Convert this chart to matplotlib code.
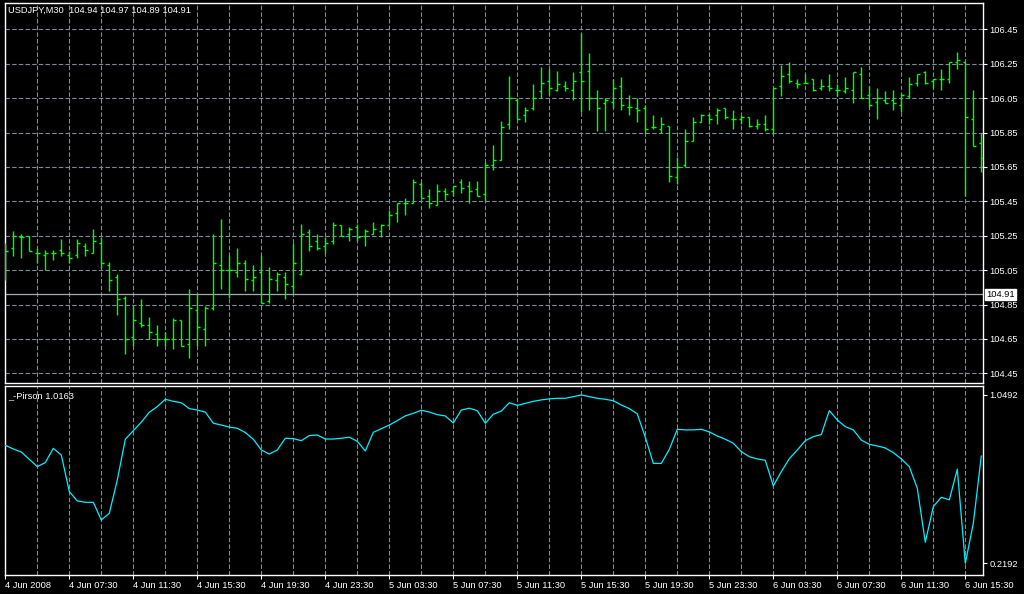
import matplotlib
matplotlib.use("Agg")
import matplotlib.pyplot as plt

# USDJPY M30 bars, 4 Jun 2008 03:30 .. 6 Jun 2008 16:30
opens = [105.14, 105.18, 105.24, 105.25, 105.15, 105.14, 105.15, 105.17, 105.14, 105.14,
         105.19, 105.15, 105.21, 105.08, 105.01, 104.89, 104.66, 104.74, 104.73, 104.68,
         104.65, 104.65, 104.76, 104.62, 104.82, 104.71, 104.83, 105.08, 105.05, 105.04,
         105.09, 104.99, 105.04, 104.87, 104.99, 105.01, 104.96, 105.03, 105.27, 105.22,
         105.19, 105.22, 105.31, 105.26, 105.30, 105.25, 105.26, 105.28, 105.31, 105.38,
         105.44, 105.44, 105.55, 105.48, 105.43, 105.51, 105.51, 105.56, 105.54, 105.52,
         105.49, 105.66, 105.69, 105.90, 106.04, 105.95, 105.99, 106.09, 106.15, 106.10,
         106.12, 106.10, 106.20, 106.21, 106.05, 106.02, 106.03, 106.12, 106.00, 105.99,
         105.99, 105.88, 105.87, 105.89, 105.59, 105.66, 105.80, 105.91, 105.95, 105.95,
         105.99, 105.93, 105.93, 105.94, 105.89, 105.90, 105.87, 106.12, 106.19, 106.14,
         106.14, 106.16, 106.11, 106.12, 106.10, 106.09, 106.10, 106.19, 106.07, 106.03,
         106.04, 106.04, 106.01, 106.06, 106.14, 106.20, 106.15, 106.16, 106.16, 106.26,
         106.26, 105.93, 105.79]
highs = [105.21, 105.28, 105.26, 105.25, 105.18, 105.17, 105.17, 105.23, 105.16, 105.23,
         105.21, 105.29, 105.24, 105.10, 105.03, 104.90, 104.84, 104.88, 104.78, 104.73,
         104.69, 104.77, 104.76, 104.94, 104.91, 104.84, 105.26, 105.35, 105.14, 105.18,
         105.11, 105.08, 105.14, 105.07, 105.04, 105.04, 105.21, 105.32, 105.29, 105.26,
         105.24, 105.33, 105.31, 105.30, 105.32, 105.29, 105.33, 105.32, 105.40, 105.44,
         105.47, 105.58, 105.56, 105.52, 105.55, 105.53, 105.54, 105.58, 105.57, 105.57,
         105.68, 105.78, 105.92, 106.18, 106.05, 106.00, 106.13, 106.23, 106.22, 106.21,
         106.15, 106.20, 106.43, 106.31, 106.10, 106.05, 106.16, 106.17, 106.07, 106.05,
         106.01, 105.95, 105.94, 105.89, 105.71, 105.87, 105.94, 105.96, 105.96, 105.99,
         105.99, 105.98, 105.95, 105.94, 105.93, 105.95, 106.11, 106.24, 106.26, 106.16,
         106.19, 106.16, 106.16, 106.19, 106.13, 106.17, 106.20, 106.23, 106.12, 106.11,
         106.09, 106.10, 106.08, 106.17, 106.19, 106.21, 106.16, 106.22, 106.26, 106.32,
         106.26, 106.10, 105.85]
lows = [104.99, 105.13, 105.12, 105.16, 105.09, 105.05, 105.11, 105.13, 105.09, 105.12,
        105.13, 105.15, 105.06, 104.93, 104.79, 104.56, 104.61, 104.72, 104.65, 104.61,
        104.61, 104.59, 104.61, 104.54, 104.61, 104.61, 104.82, 104.94, 104.89, 105.01,
        104.93, 104.93, 104.86, 104.86, 104.93, 104.88, 104.92, 105.02, 105.16, 105.17,
        105.15, 105.20, 105.25, 105.22, 105.22, 105.19, 105.26, 105.24, 105.31, 105.33,
        105.37, 105.44, 105.47, 105.41, 105.43, 105.46, 105.48, 105.50, 105.44, 105.48,
        105.45, 105.63, 105.69, 105.87, 105.93, 105.91, 105.98, 106.05, 106.07, 106.09,
        106.09, 106.04, 105.97, 105.98, 105.86, 105.86, 105.99, 105.98, 105.95, 105.91,
        105.85, 105.87, 105.85, 105.56, 105.55, 105.65, 105.80, 105.91, 105.90, 105.90,
        105.93, 105.87, 105.90, 105.88, 105.87, 105.86, 105.84, 106.06, 106.14, 106.11,
        106.14, 106.09, 106.10, 106.09, 106.06, 106.08, 106.02, 106.05, 106.00, 105.93,
        106.02, 105.98, 105.97, 106.05, 106.12, 106.13, 106.11, 106.10, 106.14, 106.22,
        105.48, 105.77, 105.62]
closes = [105.16, 105.25, 105.24, 105.16, 105.15, 105.15, 105.15, 105.15, 105.12, 105.21,
          105.17, 105.22, 105.09, 104.99, 104.88, 104.65, 104.76, 104.73, 104.69, 104.65,
          104.65, 104.76, 104.61, 104.83, 104.72, 104.83, 105.09, 105.05, 105.05, 105.09,
          105.00, 105.01, 104.86, 105.00, 105.03, 104.97, 105.09, 105.26, 105.19, 105.18,
          105.21, 105.31, 105.25, 105.29, 105.24, 105.28, 105.29, 105.31, 105.37, 105.44,
          105.44, 105.56, 105.47, 105.44, 105.51, 105.49, 105.54, 105.53, 105.51, 105.48,
          105.66, 105.69, 105.88, 106.05, 105.93, 105.98, 106.05, 106.14, 106.11, 106.13,
          106.11, 106.15, 106.15, 106.05, 105.99, 106.04, 106.11, 106.01, 106.00, 105.98,
          105.87, 105.88, 105.90, 105.60, 105.65, 105.80, 105.91, 105.95, 105.93, 105.98,
          105.94, 105.93, 105.94, 105.89, 105.90, 105.87, 106.11, 106.18, 106.15, 106.13,
          106.14, 106.10, 106.12, 106.11, 106.10, 106.11, 106.20, 106.05, 106.01, 106.05,
          106.02, 106.02, 106.07, 106.13, 106.19, 106.14, 106.16, 106.16, 106.26, 106.27,
          105.94, 105.77, 105.70]

# _-Pirson indicator values per bar
pirson = [0.801, 0.783, 0.768, 0.732, 0.696, 0.716, 0.786, 0.753, 0.573, 0.527,
          0.520, 0.520, 0.433, 0.466, 0.630, 0.831, 0.873, 0.915, 0.964, 0.992,
          1.028, 1.018, 1.011, 0.982, 0.975, 0.965, 0.910, 0.901, 0.891, 0.885,
          0.864, 0.831, 0.778, 0.758, 0.778, 0.836, 0.834, 0.824, 0.849, 0.852,
          0.832, 0.832, 0.836, 0.841, 0.821, 0.773, 0.865, 0.883, 0.901, 0.923,
          0.946, 0.959, 0.974, 0.965, 0.952, 0.946, 0.911, 0.975, 0.984, 0.972,
          0.910, 0.954, 0.970, 1.011, 0.998, 1.008, 1.018, 1.025, 1.030, 1.033,
          1.033, 1.041, 1.0492, 1.041, 1.033, 1.028, 1.021, 1.000, 0.982, 0.956,
          0.841, 0.712, 0.712, 0.781, 0.880, 0.877, 0.877, 0.880, 0.867, 0.847,
          0.831, 0.811, 0.770, 0.745, 0.734, 0.727, 0.601, 0.671, 0.735, 0.778,
          0.824, 0.844, 0.854, 0.972, 0.926, 0.893, 0.877, 0.827, 0.806, 0.798,
          0.788, 0.765, 0.734, 0.696, 0.589, 0.323, 0.499, 0.545, 0.532, 0.683,
          0.2192, 0.416, 0.748]

time_labels = ["4 Jun 2008", "4 Jun 07:30", "4 Jun 11:30", "4 Jun 15:30", "4 Jun 19:30",
               "4 Jun 23:30", "5 Jun 03:30", "5 Jun 07:30", "5 Jun 11:30", "5 Jun 15:30",
               "5 Jun 19:30", "5 Jun 23:30", "6 Jun 03:30", "6 Jun 07:30", "6 Jun 11:30",
               "6 Jun 15:30"]
price_ticks = [104.45, 104.65, 104.85, 105.05, 105.25, 105.45, 105.65, 105.85, 106.05, 106.25, 106.45]
bid = 104.91

plt.rcParams['font.family'] = ['Liberation Sans', 'DejaVu Sans']
FS = 6.7
GRID = '#7d8c9c'
W, H = 1024, 594

fig = plt.figure(figsize=(W / 100, H / 100), dpi=100, facecolor='black')
ax = fig.add_axes([4.5 / W, (H - 383) / H, 978 / W, 380.5 / H], facecolor='black')
ax2 = fig.add_axes([4.5 / W, (H - 575) / H, 978 / W, 189.5 / H], facecolor='black')

idx = list(range(len(closes)))
grid_x = list(range(0, len(closes), 4))

for a in (ax, ax2):
    for s in a.spines.values():
        s.set_color('white')
        s.set_linewidth(1.0)
    a.set_xlim(-0.1, 122.15)
    for gx in grid_x:
        a.axvline(gx, color=GRID, lw=0.8, ls=(0, (4, 2)), zorder=0)
    a.yaxis.tick_right()
    a.tick_params(colors='white', labelsize=FS, length=3, width=0.8, pad=2)

# price panel
ax.set_ylim(104.394, 106.606)
ax.set_yticks(price_ticks)
ax.set_yticklabels([f"{p:.2f}" for p in price_ticks])
ax.set_xticks([])
for p in price_ticks:
    ax.axhline(p, color=GRID, lw=0.8, ls=(0, (4, 2)), zorder=0)
ax.axhline(bid, color='#a0a8b0', lw=0.9, zorder=1)

bar_col = '#00ff00'
ax.vlines(idx, lows, highs, color=bar_col, lw=1.0, zorder=3)
ax.hlines(opens, [i - 0.33 for i in idx], idx, color=bar_col, lw=1.0, zorder=3)
ax.hlines(closes, idx, [i + 0.33 for i in idx], color=bar_col, lw=1.0, zorder=3)

ax.text(1.004, bid, f"{bid:.2f}", transform=ax.get_yaxis_transform(), ha='left', va='center',
        fontsize=FS, color='black', clip_on=False,
        bbox=dict(facecolor='white', edgecolor='white', pad=0.8))

fig.text(8 / W, 1 - 10.5 / H, "USDJPY,M30  104.94 104.97 104.89 104.91", color='white',
         fontsize=FS, va='center', ha='left')

# indicator panel
ax2.plot(idx, pirson, color='#00f0ff', lw=0.9, zorder=3)
ax2.set_ylim(0.1616, 1.0960)
ax2.set_yticks([0.2192, 1.0492])
ax2.set_yticklabels(["0.2192", "1.0492"])
ax2.set_xticks(list(range(0, len(closes), 8)))
ax2.set_xticklabels(time_labels, ha='left')
ax2.tick_params(axis='x', pad=1.5)
fig.text(8 / W, 1 - 396 / H, "_-Pirson 1.0163", color='white', fontsize=FS, va='center', ha='left')

fig.savefig("out.png", dpi=100, facecolor='black')
